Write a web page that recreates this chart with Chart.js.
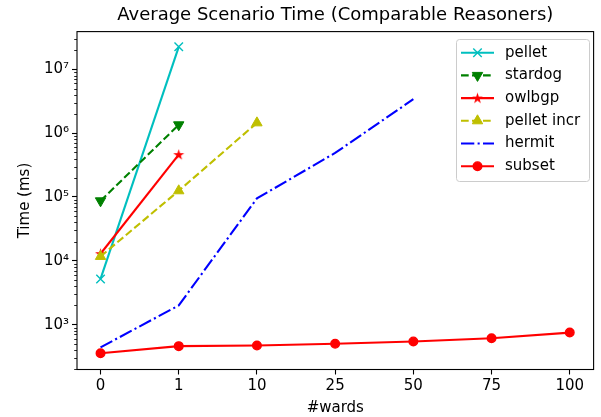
<!DOCTYPE html>
<html>
<head>
<meta charset="utf-8">
<script src="https://cdn.jsdelivr.net/npm/chart.js@4/dist/chart.umd.min.js"></script>
<style>
  html, body { margin: 0; padding: 0; background: #fff; }
  #wrap { width: 601px; height: 417px; }
</style>
</head>
<body>
<div id="wrap"><canvas id="chart" width="601" height="417"></canvas></div>
<script>
/* ================= DATA ================= */
const wards = ["0", "1", "10", "25", "50", "75", "100"];

const pelletTimes     = [5200, 22500000];
const stardogTimes    = [87000, 1350000];
const owlbgpTimes     = [12900, 460000];
const pelletIncrTimes = [11700, 125000, 1450000];
const hermitTimes     = [440, 2000, 95000, 490000, 3400000];
const subsetTimes     = [355, 460, 470, 500, 545, 610, 750];

const Y_MIN = 198;
const Y_MAX = 3.9e7;

/* ================= HELPERS ================= */
const SUP = { "0": "⁰", "1": "¹", "2": "²", "3": "³", "4": "⁴", "5": "⁵", "6": "⁶", "7": "⁷", "8": "⁸", "9": "⁹" };
const FONT_SIZE = 15;

function toPoints(values) {
    return values.map((v, i) => ({ x: i, y: v }));
}

function makeStar(color) {
    const c = document.createElement("canvas");
    c.width = 13; c.height = 13;
    const g = c.getContext("2d");
    const outer = 5.8, inner = outer * 0.382;
    g.beginPath();
    for (let i = 0; i < 10; i++) {
        const r = i % 2 === 0 ? outer : inner;
        const a = -Math.PI / 2 + i * Math.PI / 5;
        const px = 6.5 + r * Math.cos(a), py = 6.9 + r * Math.sin(a);
        if (i === 0) g.moveTo(px, py); else g.lineTo(px, py);
    }
    g.closePath();
    g.fillStyle = color;
    g.fill();
    return c;
}

const LW = 2.1;

/* ================= DATASETS ================= */
const datasets = [
    {
        label: "pellet", data: toPoints(pelletTimes),
        borderColor: "#00bfbf", backgroundColor: "#00bfbf",
        pointStyle: "crossRot", pointRadius: 6, pointBorderWidth: 1.4
    },
    {
        label: "stardog", data: toPoints(stardogTimes),
        borderColor: "#008000", backgroundColor: "#008000", borderDash: [7.7, 3.3],
        pointStyle: "triangle", rotation: 180, pointRadius: 6, pointBorderWidth: 1
    },
    {
        label: "owlbgp", data: toPoints(owlbgpTimes),
        borderColor: "#ff0000", backgroundColor: "#ff0000",
        pointStyle: makeStar("#ff0000"), pointRadius: 6, pointBorderWidth: 0
    },
    {
        label: "pellet incr", data: toPoints(pelletIncrTimes),
        borderColor: "#bfbf00", backgroundColor: "#bfbf00", borderDash: [7.7, 3.3],
        pointStyle: "triangle", rotation: 0, pointRadius: 6, pointBorderWidth: 1
    },
    {
        label: "hermit", data: toPoints(hermitTimes),
        borderColor: "#0000ff", backgroundColor: "#0000ff", borderDash: [13.3, 3.3, 2.1, 3.3],
        pointStyle: false, pointRadius: 0
    },
    {
        label: "subset", data: toPoints(subsetTimes),
        borderColor: "#ff0000", backgroundColor: "#ff0000",
        pointStyle: "circle", pointRadius: 4.3, pointBorderWidth: 1.4
    }
].map((d, i, arr) => Object.assign({ borderWidth: LW, order: arr.length - 1 - i, fill: false }, d));

/* ================= PLUGINS ================= */
const framePlugin = {
    id: "frame",
    afterDatasetsDraw(chart) {
        const { ctx, chartArea: a } = chart;
        ctx.save();
        ctx.strokeStyle = "#000";
        ctx.lineWidth = 1.1;
        ctx.strokeRect(a.left, a.top, a.right - a.left, a.bottom - a.top);

        /* minor ticks on the log axis */
        const y = chart.scales.y;
        ctx.lineWidth = 0.85;
        y.ticks.forEach(t => {
            if (t.major) return;
            const py = Math.round(y.getPixelForValue(t.value)) + 0.5;
            ctx.beginPath();
            ctx.moveTo(a.left - 2.8, py);
            ctx.lineTo(a.left, py);
            ctx.stroke();
        });
        ctx.restore();
    }
};

const legendPlugin = {
    id: "boxLegend",
    afterDraw(chart) {
        const { ctx } = chart;
        const x0 = 456, y0 = 39, w = 133, h = 142, r = 3;
        ctx.save();
        ctx.beginPath();
        ctx.roundRect(x0 + 0.5, y0 + 0.5, w, h, r);
        ctx.fillStyle = "rgba(255,255,255,0.8)";
        ctx.fill();
        ctx.strokeStyle = "#cccccc";
        ctx.lineWidth = 1;
        ctx.stroke();

        chart.data.datasets.forEach((ds, i) => {
            const cy = 52.7 + i * 22.7;
            ctx.save();
            ctx.strokeStyle = ds.borderColor;
            ctx.lineWidth = ds.borderWidth;
            ctx.setLineDash(ds.borderDash || []);
            ctx.beginPath();
            ctx.moveTo(461, cy);
            ctx.lineTo(494, cy);
            ctx.stroke();
            ctx.setLineDash([]);
            if (ds.pointStyle) {
                ctx.fillStyle = ds.backgroundColor;
                ctx.strokeStyle = ds.borderColor;
                ctx.lineWidth = ds.pointBorderWidth || 1;
                Chart.helpers.drawPoint(ctx, {
                    pointStyle: ds.pointStyle,
                    rotation: ds.rotation || 0,
                    radius: ds.pointRadius,
                    borderWidth: ds.pointBorderWidth || 0
                }, 477.5, cy);
            }
            ctx.restore();

            ctx.fillStyle = "#000";
            ctx.font = FONT_SIZE + "px 'DejaVu Sans'";
            ctx.textBaseline = "middle";
            ctx.textAlign = "left";
            ctx.fillText(ds.label, 505, cy);
        });
        ctx.restore();
    }
};

/* ================= CHART ================= */
Chart.defaults.font.family = "'DejaVu Sans', sans-serif";
Chart.defaults.color = "#000";

new Chart(document.getElementById("chart"), {
    type: "line",
    data: { datasets: datasets },
    options: {
        responsive: false,
        animation: false,
        layout: { padding: { left: 0, right: 3, top: 0, bottom: 0 } },
        scales: {
            x: {
                type: "linear",
                min: -0.301,
                max: 6.305,
                afterBuildTicks: s => { s.ticks = wards.map((_, i) => ({ value: i })); },
                afterFit: s => { s.height = 47.5; s.paddingLeft = 0; s.paddingRight = 0; },
                border: { display: false },
                grid: { drawOnChartArea: false, tickLength: 5, tickColor: "#000", tickWidth: 1.1 },
                ticks: {
                    autoSkip: false, maxRotation: 0, padding: 3,
                    font: { size: FONT_SIZE }, color: "#000",
                    callback: v => wards[v]
                },
                title: { display: true, text: "#wards", font: { size: FONT_SIZE }, color: "#000", padding: { top: 0, bottom: 0 } }
            },
            y: {
                type: "logarithmic",
                min: Y_MIN,
                max: Y_MAX,
                afterBuildTicks: s => {
                    const t = [];
                    for (let e = 2; e <= 7; e++) {
                        for (let m = 1; m <= 9; m++) {
                            const v = m * Math.pow(10, e);
                            if (v >= Y_MIN && v <= Y_MAX) t.push({ value: v, major: m === 1 });
                        }
                    }
                    s.ticks = t;
                },
                afterFit: s => { s.width = 77; s.paddingTop = 0; s.paddingBottom = 0; },
                border: { display: false },
                grid: {
                    drawOnChartArea: false, tickLength: 5, tickWidth: 1.1,
                    tickColor: c => (c.tick && c.tick.major) ? "#000" : "rgba(0,0,0,0)"
                },
                ticks: {
                    autoSkip: false, padding: 3,
                    font: { size: FONT_SIZE }, color: "#000",
                    callback: v => {
                        const e = Math.log10(v);
                        const r = Math.round(e);
                        if (Math.abs(e - r) > 1e-9) return "";
                        return "10" + String(r).split("").map(ch => SUP[ch]).join("");
                    }
                },
                title: { display: true, text: "Time (ms)", font: { size: FONT_SIZE }, color: "#000", padding: { top: 16, bottom: 0 } }
            }
        },
        plugins: {
            legend: { display: false },
            tooltip: { enabled: false },
            title: {
                display: true,
                fullSize: false,
                text: "Average Scenario Time (Comparable Reasoners)",
                font: { size: 18, weight: "normal" },
                color: "#000",
                padding: { top: 5, bottom: 5 }
            }
        }
    },
    plugins: [framePlugin, legendPlugin]
});
</script>
</body>
</html>
